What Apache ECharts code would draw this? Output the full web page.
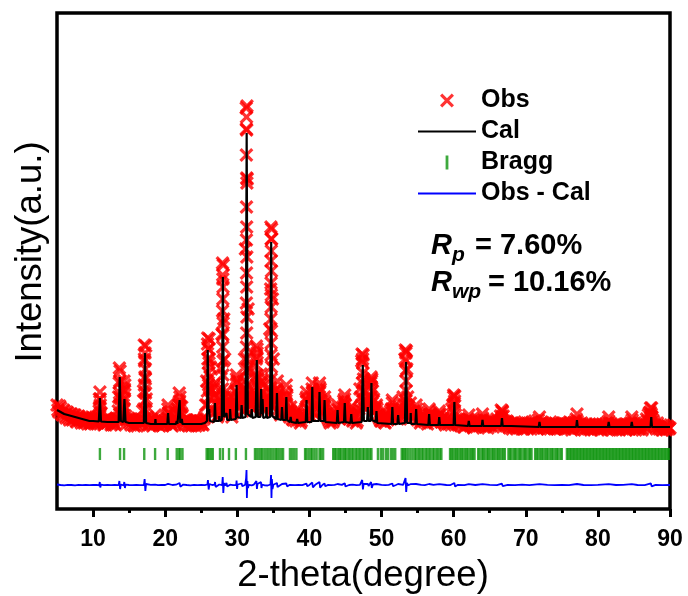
<!DOCTYPE html>
<html>
<head>
<meta charset="utf-8">
<script src="https://cdn.jsdelivr.net/npm/echarts@6/dist/echarts.min.js"></script>
<style>
  html, body { margin: 0; padding: 0; background: #fff; }
  #chart { width: 688px; height: 596px; }
</style>
</head>
<body>
<div id="chart"></div>
<script>
// Rietveld refinement plot: observed, calculated, Bragg positions and difference.

// Observed counts on a regular 2-theta grid (start, step), one row per 5 degrees
const obsStart = 5;
const obsStep = 0.25;
const obsCounts = [
  104, 97, 101, 94, 98, 91, 96, 89, 95, 90, 94, 87, 93, 88, 92, 86, 91, 85, 90, 86,
  91, 85, 89, 93, 104, 88, 84, 90, 86, 91, 84, 89, 85, 90, 98, 112, 92, 108, 93, 86,
  90, 84, 89, 83, 88, 85, 90, 86, 118, 130, 92, 84, 89, 83, 88, 85, 90, 83, 87, 84,
  89, 92, 96, 86, 83, 88, 90, 95, 108, 96, 88, 84, 89, 83, 88, 84, 89, 83, 87, 84,
  88, 84, 92, 128, 160, 142, 100, 112, 104, 92, 98, 140, 230, 150, 104, 96, 108, 92, 98, 118,
  128, 102, 110, 98, 150, 380, 200, 110, 104, 100, 130, 156, 120, 115, 104, 98, 106, 112, 180, 270,
  150, 108, 120, 100, 94, 104, 96, 118, 98, 92, 96, 89, 93, 97, 89, 86, 92, 95, 110, 100,
  94, 112, 118, 96, 100, 116, 120, 98, 104, 106, 92, 88, 93, 87, 91, 95, 99, 90, 96, 108,
  104, 94, 90, 98, 88, 92, 86, 96, 120, 148, 130, 104, 108, 112, 126, 118, 100, 102, 94, 90,
  88, 92, 86, 96, 92, 98, 106, 94, 100, 90, 94, 98, 112, 150, 140, 102, 96, 92, 98, 94,
  89, 94, 88, 92, 87, 91, 97, 92, 87, 93, 88, 91, 94, 87, 91, 86, 89, 85, 88, 100,
  112, 94, 86, 90, 83, 88, 82, 87, 90, 84, 87, 81, 86, 89, 83, 88, 91, 84, 87, 81,
  86, 89, 82, 87, 90, 84, 93, 97, 88, 83, 87, 81, 86, 82, 87, 80, 85, 82, 86, 80,
  85, 81, 86, 80, 85, 88, 82, 89, 83, 87, 81, 86, 80, 85, 82, 86, 80, 85, 82, 87,
  81, 86, 80, 85, 81, 86, 82, 87, 90, 83, 81, 86, 80, 85, 81, 84, 79, 84, 80, 85,
  80, 84, 79, 84, 81, 86, 88, 82, 79, 84, 80, 84, 79, 83, 80, 85, 80, 84, 86, 89,
  83, 79, 84, 80, 85, 81, 86, 90, 94, 97, 92, 87, 82, 86, 80, 84, 79, 83, 79, 82,
  81
];
// Observed counts on the interleaved grid (start + step/2), one row per 5 degrees
const obsCountsMid = [
  99, 103, 95, 99, 93, 97, 91, 95, 89, 94, 88, 92, 90, 86, 91, 87, 89, 92, 85, 90,
  87, 92, 86, 110, 96, 87, 85, 91, 87, 89, 85, 88, 84, 90, 126, 104, 94, 118, 89, 91,
  86, 90, 84, 88, 83, 89, 86, 98, 150, 110, 88, 85, 90, 84, 94, 86, 84, 89, 85, 88,
  85, 100, 88, 84, 89, 85, 96, 104, 102, 94, 86, 89, 84, 88, 83, 87, 85, 89, 84, 88,
  85, 90, 104, 165, 150, 118, 96, 122, 98, 94, 108, 175, 190, 112, 100, 104, 98, 96, 104, 130,
  112, 106, 114, 120, 260, 330, 140, 106, 100, 112, 150, 130, 112, 128, 102, 100, 110, 108, 220, 210,
  118, 112, 114, 96, 104, 98, 102, 112, 94, 98, 90, 94, 88, 95, 91, 88, 94, 92, 112, 94,
  98, 120, 104, 94, 104, 122, 108, 96, 108, 96, 90, 86, 91, 89, 93, 100, 92, 94, 102, 110,
  98, 91, 95, 92, 89, 94, 88, 100, 112, 150, 118, 100, 106, 110, 128, 108, 98, 100, 92, 88,
  90, 87, 93, 89, 95, 100, 96, 91, 95, 97, 90, 96, 104, 156, 112, 98, 94, 96, 92, 100,
  91, 86, 90, 88, 92, 85, 94, 95, 90, 86, 92, 89, 95, 90, 88, 84, 90, 86, 84, 104,
  108, 90, 84, 89, 86, 82, 88, 85, 86, 89, 83, 85, 82, 87, 84, 86, 89, 82, 86, 84,
  83, 87, 85, 84, 88, 86, 90, 93, 85, 88, 82, 85, 80, 84, 81, 86, 82, 84, 80, 84,
  82, 85, 83, 87, 81, 85, 80, 84, 86, 82, 84, 81, 85, 80, 84, 81, 85, 80, 84, 82,
  84, 80, 83, 81, 86, 79, 84, 86, 88, 85, 80, 83, 79, 84, 80, 85, 81, 82, 84, 81,
  82, 80, 85, 81, 83, 79, 86, 85, 83, 81, 85, 80, 84, 81, 83, 79, 84, 80, 85, 86,
  81, 84, 80, 83, 79, 84, 82, 88, 96, 93, 89, 84, 80, 83, 81, 79, 84, 80, 83, 80
];

// Observed points on the flanks of the sharp reflections [2theta, counts]
const obsPeakPoints = [
  [10.95, 117], [11.0, 110], [10.92, 102], [11.02, 96], [10.85, 98],
  [13.65, 141], [13.75, 138], [13.7, 128], [13.68, 116], [13.72, 104], [13.7, 95], [13.55, 112], [13.85, 110],
  [14.3, 128], [14.4, 124], [14.35, 120], [14.28, 110], [14.32, 100], [14.2, 104],
  [17.1, 164], [17.3, 163], [17.2, 156], [17.15, 148], [17.25, 140], [17.2, 132], [17.12, 124], [17.28, 116], [17.2, 108], [17.05, 100], [17.35, 98],
  [20.4, 104], [20.44, 96],
  [21.95, 116], [22.05, 112], [22.0, 104], [21.7, 100], [22.3, 102], [21.9, 96],
  [25.9, 171], [26.1, 170], [26.0, 160], [25.92, 150], [26.08, 146], [25.98, 136], [26.02, 124], [25.85, 118], [26.15, 112],
  [26.25, 132], [26.2, 120], [25.8, 104],
  [26.85, 125], [26.9, 115], [27.5, 112], [27.45, 104],
  [27.95, 246], [28.05, 244], [27.98, 234], [28.02, 222], [28.0, 210], [27.96, 198], [28.04, 186], [28.0, 174], [27.98, 162], [28.02, 148],
  [28.0, 134], [27.95, 120], [28.06, 112], [27.9, 104], [28.12, 100],
  [28.5, 118], [28.55, 108], [29.0, 112], [29.05, 104],
  [29.88, 134], [29.95, 126], [29.85, 116], [29.9, 106], [30.6, 118], [30.65, 108], [30.3, 112],
  [31.24, 401], [31.34, 403], [31.28, 392], [31.3, 379], [31.26, 354], [31.3, 331], [31.33, 326], [31.28, 302], [31.3, 282], [31.27, 269], [31.32, 252],
  [31.28, 236], [31.3, 222], [31.26, 206], [31.33, 192], [31.3, 176], [31.27, 162], [31.33, 150], [31.25, 138], [31.35, 124], [31.2, 112],
  [31.15, 128], [31.45, 140], [31.42, 118], [31.18, 100],
  [31.95, 112], [32.0, 104],
  [32.65, 163], [32.75, 160], [32.7, 152], [32.65, 144], [32.72, 134], [32.68, 124], [32.6, 114], [32.8, 112], [32.3, 118], [32.35, 108],
  [33.3, 135], [33.35, 126], [33.28, 116], [33.5, 124], [33.55, 114], [34.0, 112], [34.05, 104],
  [34.66, 282], [34.76, 280], [34.7, 270], [34.72, 258], [34.68, 248], [34.74, 238], [34.68, 226], [34.72, 214], [34.7, 202], [34.66, 190],
  [34.74, 178], [34.7, 166], [34.68, 154], [34.74, 142], [34.7, 130], [34.62, 118], [34.8, 116], [34.6, 104], [34.85, 104],
  [35.55, 128], [35.5, 118], [35.45, 108], [36.2, 112], [36.25, 104], [36.8, 124], [36.85, 114], [36.75, 106],
  [37.4, 102], [38.3, 100],
  [39.6, 117], [39.65, 108], [40.4, 126], [40.45, 116], [40.35, 106], [41.4, 126], [41.45, 118], [41.35, 108], [42.1, 112], [42.15, 102],
  [43.9, 104], [44.9, 114], [44.85, 106], [45.8, 102],
  [47.3, 155], [47.45, 154], [47.4, 146], [47.42, 136], [47.35, 126], [47.45, 118], [47.4, 108], [47.25, 104],
  [48.1, 108], [48.55, 132], [48.65, 130], [48.6, 122], [48.55, 112], [48.7, 106], [48.9, 110], [49.3, 104],
  [51.5, 109], [51.55, 100], [52.3, 100],
  [53.3, 159], [53.45, 158], [53.4, 148], [53.38, 138], [53.42, 128], [53.4, 118], [53.32, 108], [53.5, 104], [54.0, 106], [54.05, 98],
  [54.8, 104], [54.85, 96], [56.6, 100], [56.65, 94], [58.0, 98], [58.05, 92],
  [60.0, 114], [60.15, 113], [60.1, 106], [60.05, 98], [62.1, 94], [64.0, 95],
  [66.6, 99], [66.75, 98], [66.7, 92], [71.9, 92], [77.1, 95], [81.5, 92], [84.7, 92],
  [87.3, 101], [87.45, 101], [87.4, 95], [87.35, 90]
];

// Calculated profile [2theta, counts]
const calProfile = [
  [5, 99], [5.5, 97], [6, 95], [6.5, 94], [7, 93], [7.5, 92], [8, 91], [8.5, 90], [9, 89], [9.5, 88], [10, 88],
  [10.8, 87.5], [10.95, 111], [11.1, 87.5], [12, 87], [13.55, 87], [13.7, 132], [13.85, 88], [14.2, 87], [14.35, 110], [14.5, 87],
  [15, 86], [16, 86], [17.05, 86], [17.2, 156], [17.35, 86], [18, 85], [18.6, 85], [18.65, 90], [18.7, 85],
  [20.3, 85], [20.4, 96], [20.5, 85], [21.5, 85], [21.6, 88], [21.7, 85], [21.9, 86], [22.0, 109], [22.1, 86], [22.3, 90], [22.4, 85],
  [25, 85], [25.5, 86], [25.8, 88], [25.9, 159], [26.0, 95], [26.1, 100], [26.2, 88], [26.8, 87], [26.9, 106], [27.0, 88],
  [27.45, 88], [27.5, 93], [27.55, 88], [27.85, 89], [28.0, 232], [28.15, 92], [28.5, 96], [28.6, 89], [28.95, 89], [29.0, 100], [29.1, 89],
  [29.8, 90], [29.9, 124], [30.0, 92], [30.5, 91], [30.6, 104], [30.7, 91], [31.15, 92], [31.3, 376], [31.45, 95],
  [31.9, 92], [32.0, 100], [32.1, 91], [32.55, 92], [32.7, 149], [32.85, 92], [33.2, 92], [33.3, 120], [33.4, 95], [33.5, 110], [33.6, 91],
  [34.0, 92], [34.05, 102], [34.1, 91], [34.55, 92], [34.7, 267], [34.85, 93], [35.4, 90], [35.5, 116], [35.6, 90],
  [36.1, 89], [36.2, 102], [36.3, 89], [36.7, 89], [36.8, 112], [36.9, 89], [37.3, 87], [37.4, 92], [37.5, 87],
  [38.2, 86], [38.3, 90], [38.4, 86], [39.5, 87], [39.6, 109], [39.7, 87], [40.3, 87], [40.4, 122], [40.5, 88],
  [41.3, 88], [41.4, 117], [41.5, 88], [42.0, 88], [42.1, 109], [42.2, 87], [43.8, 86], [43.9, 99], [44.0, 86],
  [44.8, 87], [44.9, 106], [45.0, 87], [45.7, 86], [45.8, 95], [45.9, 86], [47.25, 87], [47.4, 144], [47.55, 88],
  [48.0, 88], [48.1, 102], [48.2, 88], [48.5, 88], [48.6, 126], [48.7, 89], [49.2, 87], [49.3, 98], [49.4, 86],
  [51.4, 85], [51.5, 102], [51.6, 85], [52.2, 85], [52.3, 94], [52.4, 85], [53.25, 86], [53.4, 147], [53.55, 86],
  [54.0, 86], [54.05, 96], [54.1, 85], [54.7, 85], [54.8, 100], [54.9, 85], [56.5, 84], [56.6, 95], [56.7, 84],
  [57.9, 84], [58.0, 92], [58.1, 84], [60.0, 84], [60.1, 107], [60.2, 84], [62.0, 83], [62.1, 88], [62.2, 83],
  [63.9, 83], [64.0, 89], [64.1, 83], [66.6, 83], [66.7, 91], [66.8, 83], [68, 83], [71.8, 82], [71.9, 87], [72, 82],
  [77.0, 82], [77.1, 89], [77.2, 82], [81.4, 82], [81.5, 87], [81.6, 82], [84.6, 82], [84.7, 87], [84.8, 82],
  [87.3, 82], [87.4, 92], [87.5, 82], [90, 82]
];

// Bragg reflection positions (2theta)
const braggPositions = [
  10.95, 13.74, 14.3, 17.1, 18.6, 20.35, 21.6, 21.9, 22.1, 22.4,
  25.75, 25.95, 26.15, 26.4, 26.6, 27.6, 28.0, 28.85, 29.8, 31.2,
  32.45, 32.7, 33.0, 33.3, 33.5, 33.8, 34.1, 34.4, 34.7, 35.0, 35.3, 35.5, 35.8, 36.1, 36.35,
  37.3, 37.6, 37.9, 38.2,
  39.4, 39.6, 39.9, 40.2, 40.4, 40.7, 41.0, 41.4, 41.6, 41.9,
  43.3, 43.5, 43.7, 44.0, 44.2, 44.4, 44.7, 44.9, 45.1, 45.4, 45.6, 45.9, 46.1, 46.4, 46.6, 46.9,
  47.1, 47.4, 47.6, 47.9, 48.1, 48.4, 48.6,
  49.5, 49.9, 50.2, 50.6, 50.9, 51.3, 51.6, 51.9,
  52.8, 53.0, 53.2, 53.4, 53.7, 54.0, 54.3, 54.6, 54.8, 55.1, 55.3, 55.6, 55.8, 56.1, 56.3, 56.6, 56.8,
  57.1, 57.3, 57.6, 57.8, 58.1, 58.3,
  59.5, 59.7, 59.9, 60.2, 60.4, 60.6, 60.9, 61.1, 61.3, 61.6, 61.8, 62.0, 62.3, 62.5, 62.7, 62.9,
  63.4, 63.6, 63.9, 64.1, 64.3, 64.6, 64.8, 65.0, 65.3, 65.5, 65.7, 66.0, 66.2, 66.4, 66.7, 66.9, 67.1,
  67.6, 67.8, 68.0, 68.3, 68.5, 68.7, 69.0, 69.2, 69.4, 69.7, 69.9, 70.1, 70.4, 70.6, 70.8,
  71.3, 71.5, 71.7, 72.0, 72.2, 72.4, 72.7, 72.9, 73.1, 73.4, 73.6, 73.8, 74.1, 74.3, 74.5, 74.8, 75.0,
  75.7, 75.9, 76.1, 76.3, 76.5, 76.7, 76.9, 77.1, 77.3, 77.5, 77.7, 77.9, 78.1, 78.3, 78.5, 78.7, 78.9,
  79.1, 79.3, 79.5, 79.7, 79.9, 80.1, 80.3, 80.5, 80.7, 80.9, 81.1, 81.3, 81.5, 81.7, 81.9, 82.1,
  82.3, 82.5, 82.7, 82.9, 83.1, 83.3, 83.5, 83.7, 83.9, 84.1, 84.3, 84.5, 84.7, 84.9, 85.1, 85.3,
  85.5, 85.7, 85.9, 86.1, 86.3, 86.5, 86.7, 86.9, 87.1, 87.3, 87.5, 87.7, 87.9, 88.1, 88.3, 88.5,
  88.7, 88.9, 89.1, 89.3, 89.5, 89.7, 89.85
];
// Height at which the Bragg markers are drawn
const braggLevel = 55;

// Difference curve (Obs - Cal), shifted below the pattern [2theta, counts]
const diffCurve = [
  [5, 24.5], [5.5, 24], [6, 23.6], [6.5, 24.2], [7, 24], [7.5, 23.7], [8, 24.1], [8.5, 23.9], [9, 24.2], [9.5, 23.8], [10, 24],
  [10.5, 24.1], [10.85, 23.6], [10.93, 27], [11.0, 21.5], [11.1, 24.3], [11.5, 23.9], [12, 24.1], [12.5, 23.8], [13, 24.2],
  [13.55, 23.8], [13.65, 28], [13.75, 20], [13.85, 24.5], [14.25, 23.6], [14.33, 27], [14.42, 21], [14.5, 24.3], [15, 24],
  [15.5, 23.8], [16, 24.2], [16.5, 23.9], [17.05, 24], [17.15, 30], [17.25, 18], [17.35, 25], [17.6, 23.5], [18, 24.1],
  [18.6, 24.4], [19, 23.8], [19.5, 24.1], [20, 24], [20.4, 25.2], [20.5, 23.2], [21, 24], [21.5, 24.3], [22.0, 26], [22.1, 22.3],
  [22.5, 24.4], [23, 24], [23.5, 23.7], [24, 24.2], [24.5, 23.9], [25, 24.1], [25.5, 23.8], [25.85, 24.5], [25.93, 29],
  [26.03, 19.5], [26.15, 25], [26.5, 24], [26.85, 24.3], [26.92, 27], [27.0, 22], [27.1, 24], [27.5, 24.5], [27.9, 23.8],
  [27.98, 32], [28.06, 16], [28.15, 26], [28.3, 23.5], [28.5, 26], [28.6, 22.5], [29, 24.3], [29.4, 23.9], [29.85, 24.2],
  [29.9, 28.5], [29.97, 20], [30.05, 24.5], [30.6, 25.5], [30.7, 22.8], [31.1, 24.3], [31.22, 31], [31.28, 39], [31.33, 11],
  [31.4, 28], [31.48, 21], [31.6, 24.2], [32.0, 23.6], [32.3, 24.4], [32.65, 28], [32.72, 20], [32.8, 25], [33.28, 27],
  [33.35, 21], [33.45, 24.5], [33.8, 23.7], [34.0, 25], [34.2, 23.5], [34.6, 24.5], [34.68, 34], [34.74, 11], [34.8, 30],
  [34.88, 20], [35.0, 24.3], [35.5, 26], [35.58, 22], [35.8, 24], [36.2, 25], [36.3, 23], [36.8, 25.5], [36.9, 22.6],
  [37.3, 24.2], [38, 23.8], [38.5, 24.2], [39, 23.9], [39.6, 25.3], [39.7, 22.8], [40, 24.1], [40.4, 26.5], [40.48, 21.5],
  [40.8, 24.2], [41.4, 27], [41.48, 21.3], [41.8, 24], [42.1, 25.5], [42.2, 22.8], [42.6, 24.1], [43, 23.9], [43.5, 24.2],
  [43.9, 25], [44, 23.2], [44.5, 24.1], [44.9, 25.8], [45, 22.5], [45.5, 24], [46, 24.3], [46.5, 23.8], [47.0, 24.2],
  [47.32, 29], [47.42, 19.5], [47.52, 25], [47.7, 24], [48.1, 25.2], [48.2, 23], [48.55, 27], [48.65, 21], [48.8, 24.5],
  [49.3, 25], [49.4, 23.3], [50, 24.1], [50.5, 23.8], [51, 24.2], [51.5, 25.5], [51.6, 22.7], [52, 24], [52.3, 25], [52.4, 23.2],
  [53, 24.1], [53.33, 31], [53.42, 17], [53.52, 26], [53.7, 23.8], [54, 24.8], [54.1, 23.4], [54.8, 25], [54.9, 23.1],
  [55.5, 24.1], [56, 23.9], [56.6, 25], [56.7, 23.2], [57.2, 24.1], [58, 24.8], [58.1, 23.3], [59, 24], [59.5, 23.8],
  [60.1, 26], [60.2, 22.4], [60.6, 24.2], [61.5, 23.8], [62.1, 24.9], [62.2, 23.2], [63, 24], [64, 24.9], [64.1, 23.2],
  [65, 24.1], [66, 23.8], [66.7, 25.3], [66.8, 22.9], [67.5, 24.1], [68.5, 23.8], [69.5, 24.3], [70.5, 23.9], [71.9, 24.9],
  [72, 23.2], [73, 24.1], [74, 23.8], [75, 24.2], [76, 23.9], [77.1, 25], [77.2, 23.3], [78, 24], [79, 23.8], [80, 24.2],
  [81.5, 24.9], [81.6, 23.3], [82.5, 24], [83.5, 24.2], [84.7, 24.9], [84.8, 23.3], [85.5, 24], [86.5, 23.9], [87.35, 25.6],
  [87.45, 22.6], [88, 24.2], [89, 23.9], [90, 24]
];

// Axis ticks
const majorTicks = [10, 20, 30, 40, 50, 60, 70, 80, 90];
const minorTicks = [15, 25, 35, 45, 55, 65, 75, 85];

// Fit quality
const rpValue = '7.60%';
const rwpValue = '10.16%';

const FONT = '"Liberation Sans", Arial, Helvetica, sans-serif';
const CROSS = 'path://M0,1.6L1.6,0L5,3.4L8.4,0L10,1.6L6.6,5L10,8.4L8.4,10L5,6.6L1.6,10L0,8.4L3.4,5Z';
const TICK = 'path://M0,0L1,0L1,5L0,5Z';
const LINE = 'path://M0,0L30,0L30,1L0,1Z';

const obsData = obsCounts.map((v, i) => [obsStart + i * obsStep, v])
  .concat(obsCountsMid.map((v, i) => [obsStart + obsStep / 2 + i * obsStep, v]))
  .concat(obsPeakPoints);
const braggData = braggPositions.map(x => [x, braggLevel]);

const chart = echarts.init(document.getElementById('chart'), null, { renderer: 'canvas' });

chart.setOption({
  animation: false,
  backgroundColor: '#ffffff',
  grid: {
    left: 57, right: 18, top: 13, bottom: 87,
    show: true, borderColor: '#000', borderWidth: 3.5, backgroundColor: 'transparent'
  },
  xAxis: [{
    type: 'value', min: 5, max: 90,
    axisLine: { show: false },
    splitLine: { show: false },
    axisTick: { show: true, inside: false, length: 8, lineStyle: { color: '#000', width: 3 }, customValues: majorTicks },
    axisLabel: {
      show: true, customValues: majorTicks, margin: 19,
      color: '#000', fontFamily: FONT, fontWeight: 'bold', fontSize: 23
    }
  }, {
    type: 'value', min: 5, max: 90, position: 'bottom',
    axisLine: { show: false },
    splitLine: { show: false },
    axisLabel: { show: false },
    axisTick: { show: true, inside: false, length: 4, lineStyle: { color: '#000', width: 3 }, customValues: minorTicks }
  }],
  yAxis: {
    type: 'value', min: 0, max: 496, show: false
  },
  legend: {
    orient: 'vertical',
    left: 413, top: 83,
    itemWidth: 58, itemHeight: 14, itemGap: 6,
    textStyle: { color: '#000', fontFamily: FONT, fontWeight: 'bold', fontSize: 25 },
    data: [
      { name: 'Obs', icon: CROSS },
      { name: 'Cal', icon: LINE },
      { name: 'Bragg', icon: TICK },
      { name: 'Obs - Cal', icon: LINE }
    ]
  },
  series: [{
    name: 'Obs', type: 'scatter', data: obsData,
    symbol: CROSS, symbolSize: 14,
    itemStyle: { color: '#ff0000' }, z: 1
  }, {
    name: 'Cal', type: 'line', data: calProfile,
    symbol: 'none', lineStyle: { color: '#000', width: 2.2 }, itemStyle: { color: '#000' }, z: 3
  }, {
    name: 'Bragg', type: 'scatter', data: braggData,
    symbol: 'rect', symbolSize: [2.4, 12],
    itemStyle: { color: '#0c930c' }, z: 2
  }, {
    name: 'Obs - Cal', type: 'line', data: diffCurve,
    symbol: 'none', lineStyle: { color: '#0000ff', width: 1.8 }, itemStyle: { color: '#0000ff' }, z: 2
  }],
  graphic: [
    { type: 'text', x: 363, y: 576, style: { text: '2-theta(degree)', font: '36.5px ' + FONT, fill: '#000', align: 'center', verticalAlign: 'middle' } },
    { type: 'text', x: 31, y: 252, rotation: Math.PI / 2, style: { text: 'Intensity(a.u.)', font: '36.5px ' + FONT, fill: '#000', align: 'center', verticalAlign: 'middle' } },
    { type: 'text', x: 431, y: 246, style: { text: 'R', font: 'italic bold 29px ' + FONT, fill: '#000', align: 'left', verticalAlign: 'middle' } },
    { type: 'text', x: 452, y: 255, style: { text: 'p', font: 'italic bold 21px ' + FONT, fill: '#000', align: 'left', verticalAlign: 'middle' } },
    { type: 'text', x: 475, y: 246, style: { text: '= ' + rpValue, font: 'bold 29px ' + FONT, fill: '#000', align: 'left', verticalAlign: 'middle' } },
    { type: 'text', x: 431, y: 283, style: { text: 'R', font: 'italic bold 29px ' + FONT, fill: '#000', align: 'left', verticalAlign: 'middle' } },
    { type: 'text', x: 452, y: 292, style: { text: 'wp', font: 'italic bold 21px ' + FONT, fill: '#000', align: 'left', verticalAlign: 'middle' } },
    { type: 'text', x: 488, y: 283, style: { text: '= ' + rwpValue, font: 'bold 29px ' + FONT, fill: '#000', align: 'left', verticalAlign: 'middle' } }
  ]
});
</script>
</body>
</html>
